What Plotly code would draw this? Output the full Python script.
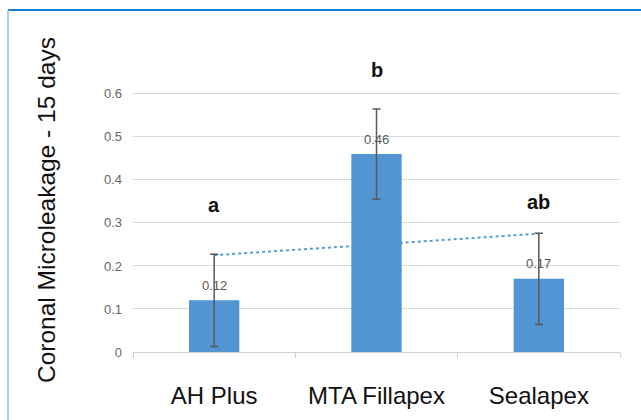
import numpy as np
import plotly.graph_objects as go

categories = ["AH Plus", "MTA Fillapex", "Sealapex"]
means = [0.12, 0.46, 0.17]
errors = [0.107, 0.105, 0.106]
letters = ["a", "b", "ab"]
y_ticks = [0, 0.1, 0.2, 0.3, 0.4, 0.5, 0.6]
y_tick_labels = ["0", "0.1", "0.2", "0.3", "0.4", "0.5", "0.6"]

W, H = 641, 420
BAR = "#5196d3"
GREY = "#595959"
FONT = "Liberation Sans, Arial, sans-serif"

fig = go.Figure()
fig.add_trace(go.Bar(
    x=categories, y=means, width=0.31,
    marker=dict(color=BAR, line=dict(width=0)),
    error_y=dict(type="data", array=errors, color=GREY, thickness=1.5, width=4),
    showlegend=False, hoverinfo="x+y",
))

# linear trendline of the means (drawn below bars)
idx = np.arange(len(means))
slope, intercept = np.polyfit(idx, means, 1)
fig.add_shape(type="line", xref="x", yref="y",
              x0=categories[0], x1=categories[-1],
              y0=intercept + slope * idx[0], y1=intercept + slope * idx[-1],
              line=dict(color="#5b9bd5", width=2, dash="dot"), layer="below")

# value labels
for c, v in zip(categories, means):
    fig.add_annotation(x=c, y=v, text=f"{v:.2f}", showarrow=False, yshift=15,
                       font=dict(family=FONT, size=13, color=GREY))

# significance letters
letter_y = [0.342, 0.656, 0.349]
for c, l, ly in zip(categories, letters, letter_y):
    fig.add_annotation(x=c, y=ly, text=f"<b>{l}</b>", showarrow=False,
                       font=dict(family=FONT, size=20, color="#111111"))

# y axis title
fig.add_annotation(xref="paper", yref="paper", x=46 / W, y=1 - 210 / H, xanchor="center", yanchor="middle",
                   text="Coronal Microleakage - 15 days", textangle=-90, showarrow=False,
                   font=dict(family=FONT, size=24.5, color="#111111"))

# frame
fig.add_shape(type="line", xref="paper", yref="paper", x0=8 / W, x1=1, y0=1 - 10 / H, y1=1 - 10 / H,
              line=dict(color="#1580d0", width=2))
fig.add_shape(type="line", xref="paper", yref="paper", x0=8 / W, x1=8 / W, y0=0, y1=1 - 10 / H,
              line=dict(color="#8dbbe8", width=1.5))

fig.update_layout(
    width=W, height=H,
    margin=dict(l=0, r=0, t=0, b=0, autoexpand=False),
    paper_bgcolor="white", plot_bgcolor="white",
    showlegend=False,
    xaxis=dict(domain=[133 / W, 620 / W], type="category", range=[-0.5, 2.5], automargin=False,
               showline=True, linecolor="#d0d0d0", linewidth=1,
               ticks="outside", tickson="boundaries", ticklen=5, tickcolor="#d0d0d0",
               showgrid=False, ticklabelstandoff=22,
               tickfont=dict(family=FONT, size=24, color="#111111")),
    yaxis=dict(domain=[1 - 352 / H, 1 - 68 / H], range=[0, 0.66], automargin=False,
               tickvals=y_ticks, ticktext=y_tick_labels,
               showgrid=True, gridcolor="#d9d9d9", gridwidth=1,
               zeroline=False, showline=False, ticks="", ticklabelstandoff=10,
               tickfont=dict(family=FONT, size=13, color="#666666")),
)

fig.write_html("out.html", config={"displayModeBar": False},
               post_script="document.body.style.margin='0';document.body.style.padding='0';")
